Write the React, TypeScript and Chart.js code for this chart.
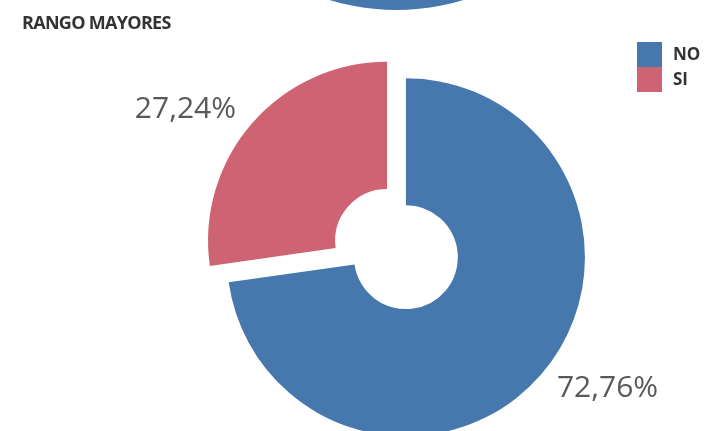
import React, { useEffect, useRef } from "react";
import { Chart, registerables } from "chart.js";

Chart.register(...registerables);

// ---- data ----
const titleText = "RANGO MAYORES";
const categories = ["NO", "SI"];
const values = [72.76, 27.24];
const colors = ["#4677AD", "#CD6373"];
// bottom edge of the (cut-off) chart above this one
const aboveValues = [100];
const aboveColors = ["#4677AD"];

const OFFSET = 50; // Chart.js translates an arc by offset / 4
const RADIUS = 179;

const fmt = (v: number) => v.toFixed(2).replace(".", ",") + "%";

// Chart.js also grows large arcs by the offset; undo that so both slices keep one radius
const keepRadius = {
  id: "keepRadius",
  afterDatasetsUpdate(chart: any) {
    const meta = chart.getDatasetMeta(0);
    meta.data.forEach((arc: any) => {
      const circ = arc.endAngle - arc.startAngle;
      const off = (arc.options?.offset ?? 0) / 4;
      const fix = 1 - Math.sin(Math.min(Math.PI, circ));
      const ro = off * fix;
      if (ro > 0) {
        const R0 = arc.outerRadius;
        arc.outerRadius -= ro;
        arc.innerRadius -= ro;
        const d = ro / (Math.PI * R0) / 2;
        arc.startAngle -= d;
        arc.endAngle += d;
      }
    });
  },
};

const sliceLabels = {
  id: "sliceLabels",
  afterDatasetsDraw(chart: any) {
    const ctx = chart.ctx;
    const meta = chart.getDatasetMeta(0);
    const R = meta.controller.outerRadius;
    ctx.save();
    ctx.font = '30px "Open Sans"';
    ctx.fillStyle = "#595959";
    ctx.textBaseline = "middle";
    meta.data.forEach((arc: any, i: number) => {
      const mid = (arc.startAngle + arc.endAngle) / 2;
      const off = (arc.options?.offset ?? 0) / 4;
      const dist = off + R + 21;
      const x = arc.x + Math.cos(mid) * dist;
      const y = arc.y + Math.sin(mid) * dist;
      ctx.textAlign = Math.cos(mid) >= 0 ? "left" : "right";
      ctx.fillText(fmt(values[i]), x, y);
    });
    ctx.restore();
  },
};

const legendAndTitle = {
  id: "legendAndTitle",
  afterDraw(chart: any) {
    const ctx = chart.ctx;
    ctx.save();
    ctx.fillStyle = "#333333";
    ctx.font = 'bold 18px "Open Sans"';
    (ctx as any).letterSpacing = "-0.7px";
    ctx.textAlign = "left";
    ctx.textBaseline = "alphabetic";
    ctx.fillText(titleText, 22, 29);
    (ctx as any).letterSpacing = "0px";
    ctx.font = 'bold 17px "Open Sans"';
    ctx.textBaseline = "middle";
    categories.forEach((c, i) => {
      ctx.fillStyle = colors[i];
      ctx.fillRect(637, 42 + i * 25, 25, 25);
      ctx.fillStyle = "#333333";
      ctx.fillText(c, 673, 55 + i * 25);
    });
    ctx.restore();
  },
};

export default function App() {
  const mainRef = useRef<HTMLCanvasElement>(null);
  const aboveRef = useRef<HTMLCanvasElement>(null);

  useEffect(() => {
    const above = new Chart(aboveRef.current!, {
      type: "doughnut",
      data: {
        labels: ["above"],
        datasets: [{ data: aboveValues, backgroundColor: aboveColors, borderWidth: 0 }],
      },
      options: {
        responsive: false,
        animation: false,
        events: [],
        radius: 230,
        cutout: "30%",
        layout: { padding: { left: 88, right: 0, top: 0, bottom: 20 } },
        plugins: { legend: { display: false }, tooltip: { enabled: false } },
      } as any,
    });

    const main = new Chart(mainRef.current!, {
      type: "doughnut",
      data: {
        labels: categories,
        datasets: [
          {
            data: values,
            backgroundColor: colors,
            borderWidth: 0,
            offset: OFFSET,
            hoverOffset: 0,
          },
        ],
      },
      options: {
        responsive: false,
        animation: false,
        events: [],
        radius: RADIUS,
        cutout: "29%",
        layout: { padding: { left: 88, right: 0, top: 67, bottom: 0 } },
        plugins: { legend: { display: false }, tooltip: { enabled: false }, title: { display: false } },
      } as any,
      plugins: [keepRadius, sliceLabels, legendAndTitle],
    });

    return () => {
      main.destroy();
      above.destroy();
    };
  }, []);

  return (
    <div
      style={{
        position: "fixed",
        left: 0,
        top: 0,
        width: 705,
        height: 431,
        overflow: "hidden",
        background: "#ffffff",
      }}
    >
      <canvas
        ref={aboveRef}
        width={705}
        height={460}
        style={{ position: "absolute", left: 0, top: -440, width: 705, height: 460 }}
      />
      <canvas
        ref={mainRef}
        width={705}
        height={431}
        style={{ position: "absolute", left: 0, top: 0, width: 705, height: 431 }}
      />
    </div>
  );
}
